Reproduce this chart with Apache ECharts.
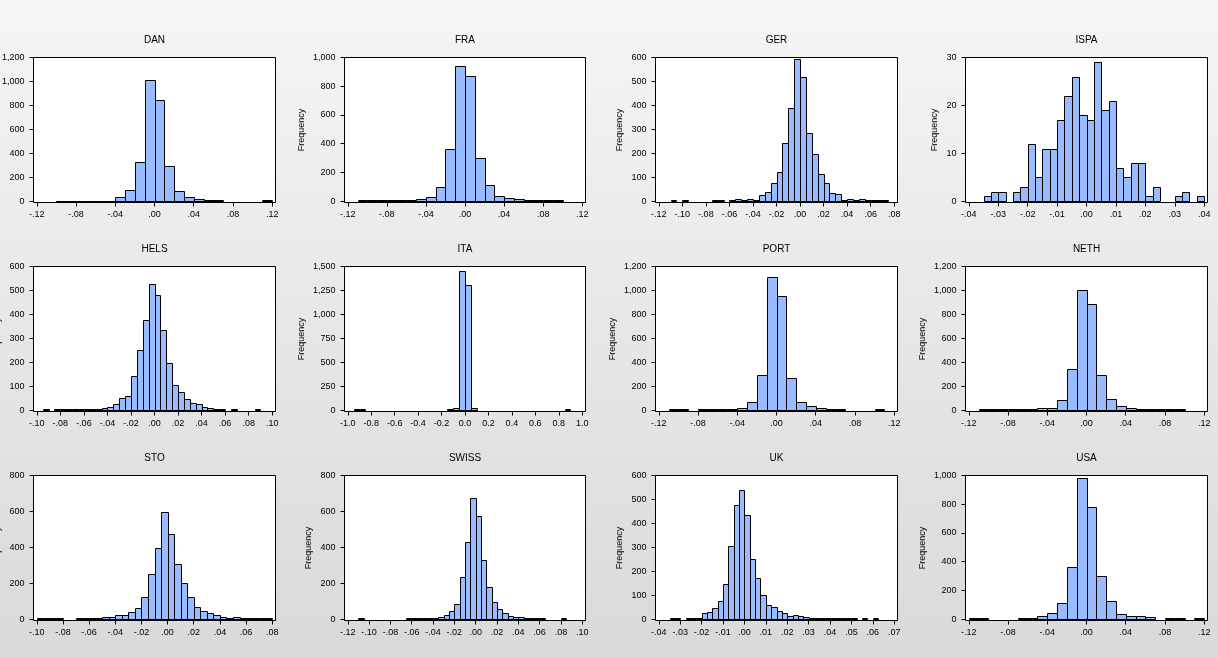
<!DOCTYPE html>
<html>
<head>
<meta charset="utf-8">
<script src="https://cdn.jsdelivr.net/npm/echarts@6/dist/echarts.min.js"></script>
<style>html,body{margin:0;padding:0;}#chart{width:1218px;height:658px;}</style>
</head>
<body>
<div id="chart"></div>
<script>
// ---------- tick labels ----------
const xTicksWide  = [-0.12, -0.08, -0.04, 0, 0.04, 0.08, 0.12];
const xTicksGER   = [-0.12, -0.10, -0.08, -0.06, -0.04, -0.02, 0, 0.02, 0.04, 0.06, 0.08];
const xTicksISPA  = [-0.04, -0.03, -0.02, -0.01, 0, 0.01, 0.02, 0.03, 0.04];
const xTicksHELS  = [-0.10, -0.08, -0.06, -0.04, -0.02, 0, 0.02, 0.04, 0.06, 0.08, 0.10];
const xTicksITA   = [-1.0, -0.8, -0.6, -0.4, -0.2, 0, 0.2, 0.4, 0.6, 0.8, 1.0];
const xTicksSTO   = [-0.10, -0.08, -0.06, -0.04, -0.02, 0, 0.02, 0.04, 0.06, 0.08];
const xTicksSWISS = [-0.12, -0.10, -0.08, -0.06, -0.04, -0.02, 0, 0.02, 0.04, 0.06, 0.08, 0.10];
const xTicksUK    = [-0.04, -0.03, -0.02, -0.01, 0, 0.01, 0.02, 0.03, 0.04, 0.05, 0.06, 0.07];

const y1200 = [0, 200, 400, 600, 800, 1000, 1200];
const y1000 = [0, 200, 400, 600, 800, 1000];
const y800  = [0, 200, 400, 600, 800];
const y600  = [0, 100, 200, 300, 400, 500, 600];
const y1500 = [0, 250, 500, 750, 1000, 1250, 1500];
const y30   = [0, 10, 20, 30];

// ---------- histogram data (first bin edge, bin width, counts) ----------
const danStart = -0.10, danBin = 0.01;
const danCounts = [5,5,5,5,5,5,31,97,331,1016,844,290,89,39,17,8,8,0,0,0,0,6];

const fraStart = -0.11, fraBin = 0.01;
const fraCounts = [6,6,6,6,6,6,12,32,102,360,944,868,304,116,39,21,12,7,7,7,7];

const gerStart = -0.11, gerBin = 0.005;
const gerCounts = [5,0,5,0,0,0,0,5,5,0,5,8,5,8,4,24,40,77,123,244,390,592,517,283,199,114,74,36,32,7,11,7,11,4,4,4,4];

const ispaStart = -0.035, ispaBin = 0.0025;
const ispaCounts = [1,2,2,0,2,3,12,5,11,11,17,22,26,18,17,29,19,21,7,5,8,8,1,3,0,0,1,2,0,1];

const helsStart = -0.095, helsBin = 0.005;
const helsCounts = [4,0,3,3,3,3,3,3,3,3,11,15,24,49,61,141,253,375,525,479,333,195,107,74,45,32,24,15,11,4,4,0,4,0,0,0,4];

const itaStart = -0.95, itaBin = 0.05;
const itaCounts = [10,10,0,0,0,0,0,0,0,0,0,0,0,0,0,0,10,20,1458,1302,28,0,0,0,0,0,0,0,0,0,0,0,0,0,0,0,10];

const portStart = -0.11, portBin = 0.01;
const portCounts = [8,8,0,8,8,8,8,17,72,290,1109,950,273,72,31,17,8,8,0,0,0,8];

const nethStart = -0.11, nethBin = 0.01;
const nethCounts = [8,8,8,8,8,8,17,22,89,340,1000,883,298,97,39,22,8,8,8,8,8];

const stoStart = -0.10, stoBin = 0.005;
const stoCounts = [6,6,6,6,0,0,6,6,6,6,13,13,24,24,41,63,122,252,399,599,477,310,204,126,70,43,37,26,15,9,15,9,7,7,7,7];

const swissStart = -0.11, swissBin = 0.005;
const swissCounts = [9,0,0,0,0,0,0,0,0,8,8,8,8,8,8,15,26,48,82,236,432,672,577,332,182,93,59,32,20,15,15,9,9,9,9,0,0,0,9];

const ukStart = -0.035, ukBin = 0.0025;
const ukCounts = [7,7,0,7,7,7,24,29,45,78,145,304,475,538,437,253,170,99,61,53,36,24,15,19,15,11,7,7,7,7,7,7,7,7,7,0,7,0,7];

const usaStart = -0.12, usaBin = 0.01;
const usaCounts = [10,10,0,0,0,10,10,25,44,116,360,986,782,304,130,39,25,19,12,0,10,10,0,10];

const panelNames = ['DAN','FRA','GER','ISPA','HELS','ITA','PORT','NETH','STO','SWISS','UK','USA'];

// ---------- assemble ----------
const panels = [
  {start: danStart,   bin: danBin,   counts: danCounts,   xTicks: xTicksWide,  yTicks: y1200, dec: 2},
  {start: fraStart,   bin: fraBin,   counts: fraCounts,   xTicks: xTicksWide,  yTicks: y1000, dec: 2},
  {start: gerStart,   bin: gerBin,   counts: gerCounts,   xTicks: xTicksGER,   yTicks: y600,  dec: 2},
  {start: ispaStart,  bin: ispaBin,  counts: ispaCounts,  xTicks: xTicksISPA,  yTicks: y30,   dec: 2},
  {start: helsStart,  bin: helsBin,  counts: helsCounts,  xTicks: xTicksHELS,  yTicks: y600,  dec: 2},
  {start: itaStart,   bin: itaBin,   counts: itaCounts,   xTicks: xTicksITA,   yTicks: y1500, dec: 1},
  {start: portStart,  bin: portBin,  counts: portCounts,  xTicks: xTicksWide,  yTicks: y1200, dec: 2},
  {start: nethStart,  bin: nethBin,  counts: nethCounts,  xTicks: xTicksWide,  yTicks: y1200, dec: 2},
  {start: stoStart,   bin: stoBin,   counts: stoCounts,   xTicks: xTicksSTO,   yTicks: y800,  dec: 2},
  {start: swissStart, bin: swissBin, counts: swissCounts, xTicks: xTicksSWISS, yTicks: y800,  dec: 2},
  {start: ukStart,    bin: ukBin,    counts: ukCounts,    xTicks: xTicksUK,    yTicks: y600,  dec: 2},
  {start: usaStart,   bin: usaBin,   counts: usaCounts,   xTicks: xTicksWide,  yTicks: y1000, dec: 2}
];

const FONT = '"Liberation Sans", Arial, sans-serif';
const BAR_FILL = '#99bbff';
const colLeft = [33.5, 344.5, 655.5, 965.5];
const colWidth = [242, 241, 242, 242];
const rowTop = [57.5, 266.5, 475.5];
const rowHeight = 145;
const X_PAD = 3.3, Y_PAD = 1.3;

function fmtX(v, dec, step) {
  let r = Math.round(v / step) * step;
  if (Math.abs(r) < 1e-9) r = 0;
  let s = r.toFixed(dec);
  if (dec === 2) s = s.replace(/^(-?)0\./, '$1.');
  return s;
}
function labelWidth(str) {
  let w = 0;
  for (const ch of str) w += (ch === ',' ? 2.5 : 5.0);
  return w;
}
function renderBar(params, api) {
  const c = api.value(2);
  if (!c) return null;
  const a = api.coord([api.value(0), c]);
  const b = api.coord([api.value(1), 0]);
  const x0 = Math.round(a[0]) + 0.5, x1 = Math.round(b[0]) + 0.5;
  const y0 = Math.round(a[1]) + 0.5, y1 = Math.round(b[1]) + 0.5;
  return {
    type: 'rect',
    shape: {x: x0, y: y0, width: x1 - x0, height: y1 - y0},
    style: {fill: BAR_FILL, stroke: '#000', lineWidth: 1}
  };
}

const grids = [], xAxes = [], yAxes = [], series = [], titles = [];
panels.forEach((p, i) => {
  const col = i % 4, row = Math.floor(i / 4);
  const L = colLeft[col], W = colWidth[col], T = rowTop[row], H = rowHeight;
  grids.push({left: L, top: T, width: W, height: H, show: true, backgroundColor: '#ffffff',
    borderColor: '#000', borderWidth: 1, containLabel: false, outerBoundsMode: 'none'});
  const xmin = p.xTicks[0], xmax = p.xTicks[p.xTicks.length - 1];
  const xstep = p.xTicks[1] - p.xTicks[0];
  const xp = (xmax - xmin) * X_PAD / (W - 2 * X_PAD);
  const ymax = p.yTicks[p.yTicks.length - 1];
  const yp = ymax * Y_PAD / (H - Y_PAD);
  const maxLab = Math.max(...p.yTicks.map(v => labelWidth(v.toLocaleString('en-US'))));
  xAxes.push({
    type: 'value', gridIndex: i, min: xmin - xp, max: xmax + xp,
    axisLine: {show: false, onZero: false},
    splitLine: {show: false},
    axisTick: {show: true, length: 4, inside: false, customValues: p.xTicks, lineStyle: {color: '#000', width: 1}},
    axisLabel: {show: true, customValues: p.xTicks, formatter: v => fmtX(v, p.dec, xstep),
      fontSize: 9, color: '#000', margin: 8, fontFamily: FONT}
  });
  yAxes.push({
    type: 'value', gridIndex: i, min: -yp, max: ymax,
    name: 'Frequency',
    nameLocation: 'middle', nameGap: maxLab + 16, nameMoveOverlap: false,
    nameTextStyle: {fontSize: 9, color: '#000', fontFamily: FONT},
    axisLine: {show: false, onZero: false},
    splitLine: {show: false},
    axisTick: {show: true, length: 4, inside: false, customValues: p.yTicks, lineStyle: {color: '#000', width: 1}},
    axisLabel: {show: true, customValues: p.yTicks, formatter: v => Math.round(v).toLocaleString('en-US'),
      fontSize: 9, color: '#000', margin: 9, fontFamily: FONT}
  });
  series.push({
    type: 'custom', xAxisIndex: i, yAxisIndex: i, silent: true, clip: false,
    encode: {x: [0, 1], y: 2},
    renderItem: renderBar,
    data: p.counts.map((c, k) => [p.start + k * p.bin, p.start + (k + 1) * p.bin, c])
  });
  titles.push({
    text: panelNames[i], left: L + W / 2, top: T - 22, textAlign: 'center', padding: 0,
    textStyle: {fontSize: 10, fontWeight: 'normal', color: '#000', fontFamily: FONT}
  });
});

const chart = echarts.init(document.getElementById('chart'), null, {renderer: 'canvas'});
chart.setOption({
  animation: false,
  backgroundColor: new echarts.graphic.LinearGradient(0, 0, 0, 1, [
    {offset: 0, color: '#f5f5f5'}, {offset: 1, color: '#d9d9d9'}
  ]),
  title: titles,
  grid: grids,
  xAxis: xAxes,
  yAxis: yAxes,
  series: series
});
</script>
</body>
</html>
